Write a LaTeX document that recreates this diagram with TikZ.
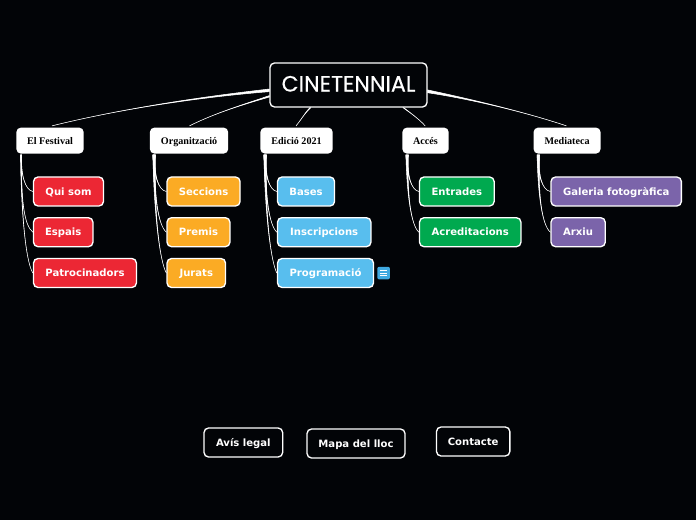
\documentclass[tikz,border=0pt]{standalone}
\usepackage{fontspec}
\usetikzlibrary{calc}
\setmainfont{DejaVu Sans}
\newfontfamily\rootfont[FakeBold=0.35]{Poppins}
\newfontfamily\serifbold[BoldFont={Liberation Serif Bold}]{Liberation Serif}
\definecolor{pagebg}{HTML}{020407}
\definecolor{fest}{HTML}{EC2734}
\definecolor{orga}{HTML}{FBAB24}
\definecolor{edic}{HTML}{58BEEE}
\definecolor{acce}{HTML}{00A94F}
\definecolor{medi}{HTML}{7B64AA}
\definecolor{iconblue}{HTML}{3FA9E0}
\tikzset{
  x=0.75pt,y=-0.75pt,
  box/.style={rounded corners=3.4pt,draw=white,line width=1pt,inner sep=0pt,anchor=north west,xshift=-0.5pt,yshift=0.5pt,text height=5.7pt,text depth=0pt},
  rootbox/.style={box,fill=pagebg,text=white,minimum width=117.75pt,minimum height=33pt,text height=12pt,text depth=2.2pt,font=\rootfont\fontsize{16.6pt}{20pt}\selectfont},
  topic/.style={rounded corners=3.4pt,fill=white,text=black,inner sep=0pt,anchor=north west,xshift=-0.3pt,yshift=0.5pt,minimum height=19.5pt,text height=5.4pt,text depth=0.2pt,font=\serifbold\bfseries\fontsize{7.6pt}{9pt}\selectfont},
  leaf/.style={box,text=white,minimum height=21.75pt,font=\bfseries\fontsize{7.55pt}{9pt}\selectfont},
  footer/.style={box,fill=pagebg,text=white,minimum height=21.75pt,font=\bfseries\fontsize{7.55pt}{9pt}\selectfont},
  wire/.style={draw=white,fill=white,line width=0.4pt,line join=round}
}
% Tapered branch: start anchor, half width at the start, two control points, end anchor
\newcommand{\branch}[5]{%
  \path[wire] ($(#1)+(0,-#2)$) .. controls (#3) and (#4) .. (#5)
     .. controls (#4) and (#3) .. ($(#1)+(0,#2)$) -- cycle;}
\newcommand{\branchv}[5]{%
  \path[wire] ($(#1)+(-#2,0)$) .. controls (#3) and (#4) .. (#5)
     .. controls (#4) and (#3) .. ($(#1)+(#2,0)$) -- cycle;}
\begin{document}
\begin{tikzpicture}
\useasboundingbox (0,0) rectangle (696,520);
\fill[pagebg] (0,0) rectangle (696,520);

% Central title
\node[rootbox] (root) at (270,63) {CINETENNIAL};

% Main topics
\node[topic,minimum width=50.5pt] (festival) at (16.5,128) {El Festival};
\node[topic,minimum width=58.75pt] (organitzacio) at (150,128) {Organització};
\node[topic,minimum width=54.25pt] (edicio) at (260.5,128) {Edició 2021};
\node[topic,minimum width=34.75pt] (acces) at (402.5,128) {Accés};
\node[topic,minimum width=50.25pt] (mediateca) at (533.7,128) {Mediateca};

% Subtopics
\node[leaf,fill=fest,minimum width=52.5pt] (quisom) at (33.5,177) {Qui som};
\node[leaf,fill=fest,minimum width=44.6pt] (espais) at (33.5,217.7) {Espais};
\node[leaf,fill=fest,minimum width=77.2pt] (patro) at (33.5,258.5) {Patrocinadors};
\node[leaf,fill=orga,minimum width=54.8pt] (seccions) at (167,177) {Seccions};
\node[leaf,fill=orga,minimum width=47.2pt] (premis) at (167,217.7) {Premis};
\node[leaf,fill=orga,minimum width=43.9pt] (jurats) at (167,258.5) {Jurats};
\node[leaf,fill=edic,minimum width=42.8pt] (bases) at (277.5,177) {Bases};
\node[leaf,fill=edic,minimum width=70.1pt] (inscr) at (277.5,217.7) {Inscripcions};
\node[leaf,fill=edic,minimum width=72pt] (progr) at (277.5,258.5) {Programació};
\node[leaf,fill=acce,minimum width=56pt] (entrades) at (419.5,177) {Entrades};
\node[leaf,fill=acce,minimum width=76.1pt] (acred) at (419.5,217.7) {Acreditacions};
\node[leaf,fill=medi,minimum width=97.8pt] (galeria) at (551,177) {Galeria fotogràfica};
\node[leaf,fill=medi,minimum width=40.7pt] (arxiu) at (551,217.7) {Arxiu};

% Note marker beside Programació
\node[fill=iconblue,rounded corners=1.5pt,minimum width=9.5pt,minimum height=9.5pt,inner sep=0pt,anchor=north west] (note) at (377,266.5) {};
\foreach \yy in {-1.9,0,1.9}
  \draw[white,line width=0.6pt] ($(note.center)+(-2.8pt,\yy pt)$) -- ($(note.center)+(2.8pt,\yy pt)$);

% Footer links
\node[footer,minimum width=59pt] (avis) at (204,428) {Avís legal};
\node[footer,minimum width=73.5pt] (mapa) at (307,429) {Mapa del lloc};
\node[footer,minimum width=55pt] (contacte) at (436.5,427) {Contacte};

% Title to topics
\coordinate (rf) at ($(root.north west)+(0,28)$);
\coordinate (ro) at ($(root.north west)+(0,34)$);
\coordinate (rm) at ($(root.north east)+(0,29)$);
\coordinate (re) at ($(root.south west)+(41,0)$);
\coordinate (ra) at ($(root.south west)+(134,0)$);
\coordinate (tf) at ($(festival.north west)+(36,-1.5)$);
\coordinate (to) at ($(organitzacio.north west)+(40,-1.5)$);
\coordinate (te) at ($(edicio.north west)+(36,-1.5)$);
\coordinate (ta) at ($(acces.north west)+(23,-1.5)$);
\coordinate (tm) at ($(mediateca.north west)+(33,-1.5)$);
\branch{rf}{1.3}{190,98}{112,111}{tf}
\branch{ro}{0.7}{245,104}{215,113}{to}
\branchv{re}{0.5}{304,114}{301,120}{te}
\branchv{ra}{0.4}{412,114}{420,120}{ta}
\branch{rm}{1.4}{470,99}{525,112}{tm}

% Topics to subtopics
\coordinate (sf) at ($(festival.south west)+(5,1)$);
\coordinate (so) at ($(organitzacio.south west)+(4.5,1)$);
\coordinate (se) at ($(edicio.south west)+(5,1)$);
\coordinate (sa) at ($(acces.south west)+(5,1)$);
\coordinate (sm) at ($(mediateca.south west)+(5,1)$);
\branchv{sf}{0.4}{21,175}{25,190}{quisom.west}
\branchv{sf}{0.4}{21,200}{24,225}{espais.west}
\branchv{sf}{0.4}{21,215}{26,262}{patro.west}
\branchv{so}{1.2}{154,175}{158,190}{seccions.west}
\branchv{so}{1.2}{154,195}{158,225}{premis.west}
\branchv{so}{1.2}{154,215}{160,262}{jurats.west}
\branchv{se}{1.2}{265,175}{269,190}{bases.west}
\branchv{se}{1.2}{265,195}{269,225}{inscr.west}
\branchv{se}{1.2}{265,215}{271,262}{progr.west}
\branchv{sa}{1.2}{407,175}{411,190}{entrades.west}
\branchv{sa}{1.2}{407,195}{411,225}{acred.west}
\branchv{sm}{1.2}{538,175}{542,190}{galeria.west}
\branchv{sm}{1.2}{538,195}{542,225}{arxiu.west}
\end{tikzpicture}
\end{document}
